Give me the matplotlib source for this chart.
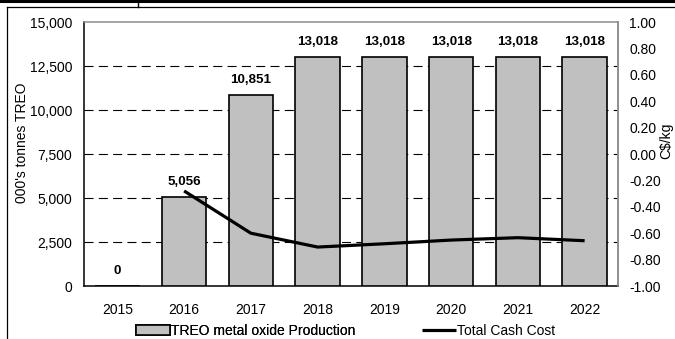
import matplotlib
matplotlib.use("Agg")
import matplotlib.pyplot as plt
from matplotlib import font_manager
from matplotlib.lines import Line2D
import numpy as np

# Production and cash cost by year
years = ["2015", "2016", "2017", "2018", "2019", "2020", "2021", "2022"]
production = [0, 5056, 10851, 13018, 13018, 13018, 13018, 13018]
cash_cost = [np.nan, -0.28, -0.60, -0.705, -0.68, -0.652, -0.634, -0.657]
left_ticks = [0, 2500, 5000, 7500, 10000, 12500, 15000]
right_ticks = [-1.0, -0.8, -0.6, -0.4, -0.2, 0.0, 0.2, 0.4, 0.6, 0.8, 1.0]

available = {f.name for f in font_manager.fontManager.ttflist}
narrow = "Liberation Sans Narrow" if "Liberation Sans Narrow" in available else "Liberation Sans"
plt.rcParams["font.family"] = [narrow, "DejaVu Sans"]
plt.rcParams["axes.unicode_minus"] = False
plt.rcParams["lines.scale_dashes"] = False

FS = 10.0
W, H = 675, 339
fig = plt.figure(figsize=(W / 100, H / 100), dpi=100)
ax = fig.add_axes([84 / W, 1 - 286 / H, (618 - 84) / W, (286 - 22) / H])

x = np.arange(len(years))
bars = ax.bar(x, production, width=0.67, color="#c0c0c0", edgecolor="black",
              linewidth=1.2, zorder=3, label="TREO metal oxide Production")

for t in left_ticks[1:-1]:
    ax.axhline(t, color="black", linewidth=0.8, linestyle=(0, (6.5, 3.8)), zorder=1)

for xi, v in zip(x, production):
    ax.annotate(f"{v:,}", (xi, v), xytext=(0, 6.5), textcoords="offset points",
                ha="center", va="bottom", fontsize=9.6, fontweight="bold",
                family=["Liberation Sans", "DejaVu Sans"], zorder=5)

ax.set_xlim(-0.5, len(years) - 0.5)
ax.set_ylim(0, 15000)
ax.set_yticks(left_ticks)
ax.set_yticklabels([f"{t:,}" for t in left_ticks], fontsize=FS)
ax.set_xticks(x)
ax.set_xticklabels(years, fontsize=FS)
ax.tick_params(axis="y", length=0, pad=8.6)
ax.tick_params(axis="x", length=0, pad=12)
for s in ("left", "bottom"):
    ax.spines[s].set_color("black")
    ax.spines[s].set_linewidth(1.1)
for s in ("top", "right"):
    ax.spines[s].set_color("#8c8c8c")
    ax.spines[s].set_linewidth(1.1)

ax2 = ax.twinx()
line, = ax2.plot(x, cash_cost, color="black", linewidth=2.3, zorder=4,
                 label="Total Cash Cost", solid_capstyle="butt")
ax2.set_ylim(-1.0, 1.0)
ax2.set_yticks(right_ticks)
ax2.set_yticklabels([f"{t:.2f}" for t in right_ticks], fontsize=FS)
ax2.tick_params(axis="y", length=0, pad=8)
for s in ("left", "bottom", "top"):
    ax2.spines[s].set_visible(False)
ax2.spines["right"].set_color("#8c8c8c")
ax2.spines["right"].set_linewidth(1.1)

fig.text(22 / W, 1 - 143 / H, "000's tonnes TREO", rotation=90,
         ha="center", va="center", fontsize=FS)
fig.text(666 / W, 1 - 141 / H, "C$/kg", rotation=90,
         ha="center", va="center", fontsize=FS)

# Two legend entries placed independently along the bottom
leg_kw = dict(frameon=False, fontsize=FS, handlelength=2.45, handleheight=0.65,
              handletextpad=0.1, borderpad=0, borderaxespad=0, loc="center left")
leg1 = fig.legend(handles=[bars], labels=["TREO metal oxide Production"],
                  bbox_to_anchor=(136 / W, 1 - 331 / H), **leg_kw)
fig.add_artist(leg1)
fig.legend(handles=[line], labels=["Total Cash Cost"],
           bbox_to_anchor=(422 / W, 1 - 331 / H), **leg_kw)

# Page border fragments around the chart
fig.add_artist(Line2D([0, 1], [1 - 1.3 / H, 1 - 1.3 / H], color="black", linewidth=2.2))
fig.add_artist(Line2D([7 / W, 1], [1 - 6.5 / H, 1 - 6.5 / H], color="black", linewidth=0.9))
fig.add_artist(Line2D([7 / W, 7 / W], [1 - 6.5 / H, 0], color="black", linewidth=0.9))
fig.add_artist(Line2D([138 / W, 138 / W], [1 - 1.3 / H, 1 - 6.5 / H], color="black", linewidth=1.0))

fig.savefig("out.png", dpi=100)
